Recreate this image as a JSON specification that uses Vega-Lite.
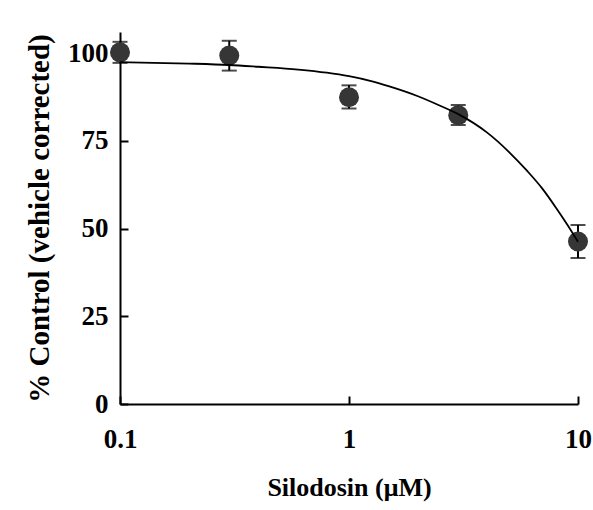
{
  "$schema": "https://vega.github.io/schema/vega-lite/v6.json",
  "width": 458,
  "height": 372,
  "autosize": "none",
  "padding": {"left": 120, "top": 32, "right": 15, "bottom": 106},
  "background": "white",
  "config": {
    "view": {"stroke": null},
    "font": "Liberation Serif",
    "axis": {
      "grid": false,
      "domainColor": "black",
      "domainWidth": 2,
      "tickColor": "black",
      "tickWidth": 2,
      "labelFont": "Liberation Serif",
      "labelFontWeight": "bold",
      "labelFontSize": 27,
      "labelColor": "black",
      "titleFont": "Liberation Serif",
      "titleFontWeight": "bold",
      "titleColor": "black"
    }
  },
  "datasets": {
    "pts": [
      {"conc": 0.1, "mean": 100.2, "lo": 97.2, "hi": 103.2},
      {"conc": 0.3, "mean": 99.3, "lo": 95.0, "hi": 103.5},
      {"conc": 1, "mean": 87.4, "lo": 84.2, "hi": 90.8},
      {"conc": 3, "mean": 82.3, "lo": 79.5, "hi": 85.2},
      {"conc": 10, "mean": 46.3, "lo": 41.6, "hi": 51.0}
    ],
    "fit": [
      {"conc": 0.1, "pct": 97.4},
      {"conc": 0.2, "pct": 97.0},
      {"conc": 0.3, "pct": 96.6},
      {"conc": 0.4, "pct": 96.1},
      {"conc": 0.6, "pct": 95.3},
      {"conc": 0.8, "pct": 94.4},
      {"conc": 1.0, "pct": 93.4},
      {"conc": 1.25, "pct": 92.0},
      {"conc": 1.5, "pct": 90.5},
      {"conc": 2, "pct": 87.7},
      {"conc": 2.5, "pct": 85.0},
      {"conc": 3, "pct": 82.6},
      {"conc": 4, "pct": 77.4},
      {"conc": 5, "pct": 71.8},
      {"conc": 6, "pct": 66.4},
      {"conc": 7, "pct": 61.3},
      {"conc": 8, "pct": 56.0},
      {"conc": 9, "pct": 51.0},
      {"conc": 10, "pct": 46.2}
    ]
  },
  "layer": [
    {
      "data": {"name": "pts"},
      "mark": {"type": "errorbar", "ticks": {"size": 15, "thickness": 2, "color": "black"}, "rule": {"strokeWidth": 2, "color": "black"}},
      "encoding": {
        "x": {"field": "conc", "type": "quantitative", "scale": {"type": "log", "domain": [0.1, 10], "nice": false},
          "axis": {"values": [0.1, 1, 10], "title": "Silodosin (\u03bcM)", "titleFontSize": 26, "tickSize": -8, "labelPadding": 30, "titlePadding": 22, "labelFlush": false, "labelOverlap": false, "labelExpr": "datum.value < 0.5 ? '0.1' : format(datum.value, 'd')"}},
        "y": {"field": "lo", "type": "quantitative", "scale": {"domain": [0, 106], "nice": false},
          "axis": {"values": [0, 25, 50, 75, 100], "title": "% Control (vehicle corrected)", "titleFontSize": 29, "tickSize": -8, "labelPadding": 20, "titlePadding": 13}},
        "y2": {"field": "hi"}
      }
    },
    {
      "data": {"name": "pts"},
      "mark": {"type": "point", "filled": true, "shape": "circle", "size": 400, "color": "#363636", "opacity": 1},
      "encoding": {
        "x": {"field": "conc", "type": "quantitative"},
        "y": {"field": "mean", "type": "quantitative"}
      }
    },
    {
      "data": {"name": "fit"},
      "mark": {"type": "line", "color": "black", "strokeWidth": 1.8, "interpolate": "monotone"},
      "encoding": {
        "x": {"field": "conc", "type": "quantitative"},
        "y": {"field": "pct", "type": "quantitative"}
      }
    }
  ]
}
